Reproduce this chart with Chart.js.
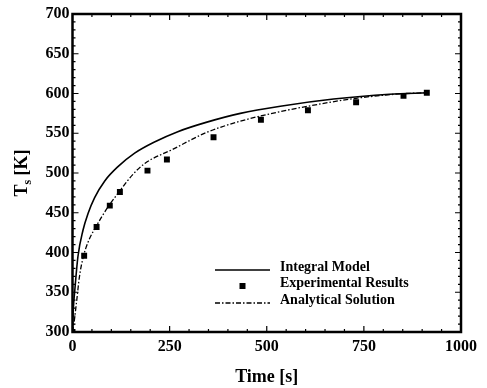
<!doctype html>
<html>

<head>
    <title>Ts vs time</title>
    <script src="https://cdn.jsdelivr.net/npm/chart.js"></script>
    <style>
        body { margin: 0; background: #fff; }
        .div-grafico { width: 487px; height: 388px; position: relative; }
    </style>
</head>

<body>
    <div class="div-grafico">
        <canvas id="grafico"></canvas>
    </div>

    <script>
        // values
        var tempoModelo = [0, 2, 6, 14, 27, 40, 57, 83, 117, 160, 211, 271, 346, 432, 535, 672, 816, 913]
        var tsModelo = [300, 328, 353, 395, 428, 449, 469, 490, 508, 525, 539, 552, 564, 575, 584, 593, 599, 601]

        var tempoExp = [0, 30, 62, 96, 122, 193, 243, 363, 485, 606, 730, 852, 912]
        var tsExp = [300, 396, 432, 459, 476, 503, 517, 545, 567, 579, 589, 597, 601]

        var tempoAnalitico = [0, 4, 10, 18, 27, 40, 61, 91, 121, 155, 186, 259, 345, 431, 533, 640, 730, 842, 912]
        var tsAnalitico = [300, 312, 336, 370, 393, 413, 433, 457, 477, 498, 512, 530, 551, 565, 577, 587, 594, 599.5, 601]

        var xTicks = [0, 250, 500, 750, 1000]
        var yTicks = [300, 350, 400, 450, 500, 550, 600, 650, 700]

        function pares(xs, ys) {
            return xs.map((v, i) => ({ x: v, y: ys[i] }))
        }

        var fonte = 'Liberation Serif, Times New Roman, serif'

        // frame, inward ticks, axis titles and legend
        var moldura = {
            id: 'moldura',
            afterDraw(chart) {
                var ctx = chart.ctx
                var a = chart.chartArea
                var x = chart.scales.x
                var y = chart.scales.y
                ctx.save()
                ctx.strokeStyle = '#000'
                ctx.lineWidth = 1.2
                ctx.beginPath()
                for (var v = 0; v <= 1000; v += 50) {
                    var px = x.getPixelForValue(v)
                    var len = v % 250 == 0 ? 6 : 3
                    ctx.moveTo(px, a.bottom); ctx.lineTo(px, a.bottom - len)
                    ctx.moveTo(px, a.top); ctx.lineTo(px, a.top + len)
                }
                for (var w = 300; w <= 700; w += 10) {
                    var py = y.getPixelForValue(w)
                    var len2 = w % 50 == 0 ? 6 : 3
                    ctx.moveTo(a.left, py); ctx.lineTo(a.left + len2, py)
                    ctx.moveTo(a.right, py); ctx.lineTo(a.right - len2, py)
                }
                ctx.stroke()

                ctx.lineWidth = 2.5
                ctx.strokeRect(a.left, a.top, a.right - a.left, a.bottom - a.top)

                // axis titles
                ctx.fillStyle = '#000'
                ctx.font = 'bold 18px ' + fonte
                ctx.textAlign = 'center'
                ctx.textBaseline = 'middle'
                ctx.fillText('Time [s]', (a.left + a.right) / 2, 377)

                ctx.save()
                ctx.translate(21, (a.top + a.bottom) / 2)
                ctx.rotate(-Math.PI / 2)
                ctx.textAlign = 'left'
                ctx.textBaseline = 'alphabetic'
                var partes = [['T', 'bold 18px ', 0], ['s', 'bold 12px ', 4], [' [K]', 'bold 18px ', 0]]
                var total = 0
                partes.forEach(p => { ctx.font = p[1] + fonte; total += ctx.measureText(p[0]).width })
                var cx = -total / 2
                partes.forEach(p => {
                    ctx.font = p[1] + fonte
                    ctx.fillText(p[0], cx, 6 + p[2])
                    cx += ctx.measureText(p[0]).width
                })
                ctx.restore()

                // legend
                var ds = chart.data.datasets
                var lx1 = 215, lx2 = 270, tx = 280
                var linhas = [270, 286, 303]
                ctx.font = 'bold 14px ' + fonte
                ctx.textAlign = 'left'
                ctx.textBaseline = 'middle'
                ds.forEach((d, i) => {
                    var ly = linhas[i]
                    if (d.showLine === false) {
                        ctx.fillRect((lx1 + lx2) / 2 - 3, ly - 3, 6, 6)
                    } else {
                        ctx.lineWidth = d.borderWidth
                        ctx.setLineDash(d.borderDash || [])
                        ctx.beginPath()
                        ctx.moveTo(lx1, ly); ctx.lineTo(lx2, ly)
                        ctx.stroke()
                        ctx.setLineDash([])
                    }
                    ctx.fillText(d.label, tx, ly - 3)
                })
                ctx.restore()
            }
        }

        var grafico = new Chart(document.getElementById('grafico').getContext('2d'), {
            type: 'scatter',
            data: {
                datasets: [{
                    label: 'Integral Model',
                    data: pares(tempoModelo, tsModelo),
                    showLine: true,
                    borderColor: '#000',
                    borderWidth: 1.6,
                    pointRadius: 0,
                    cubicInterpolationMode: 'monotone'
                }, {
                    label: 'Experimental Results',
                    data: pares(tempoExp, tsExp),
                    showLine: false,
                    pointStyle: 'rect',
                    pointRadius: 4.2,
                    backgroundColor: '#000',
                    borderColor: '#000',
                    borderWidth: 0
                }, {
                    label: 'Analytical Solution',
                    data: pares(tempoAnalitico, tsAnalitico),
                    showLine: true,
                    borderColor: '#000',
                    borderWidth: 1.3,
                    borderDash: [5, 2, 1.5, 2],
                    pointRadius: 0,
                    cubicInterpolationMode: 'monotone'
                }]
            },
            options: {
                responsive: true,
                maintainAspectRatio: false,
                animation: false,
                devicePixelRatio: 1,
                layout: {
                    padding: { top: 14, right: 26, left: 0, bottom: 0 }
                },
                plugins: {
                    legend: { display: false },
                    tooltip: { enabled: false }
                },
                scales: {
                    x: {
                        type: 'linear',
                        min: 0,
                        max: 1000,
                        afterFit: s => { s.height = 56 },
                        afterBuildTicks: s => { s.ticks = xTicks.map(v => ({ value: v })) },
                        grid: { display: false, drawTicks: false },
                        border: { display: false },
                        ticks: {
                            color: '#000',
                            padding: 5,
                            maxRotation: 0,
                            callback: v => String(v),
                            font: { family: fonte, size: 16, weight: 'bold' }
                        }
                    },
                    y: {
                        min: 300,
                        max: 700,
                        afterFit: s => { s.width = 72.5 },
                        afterBuildTicks: s => { s.ticks = yTicks.map(v => ({ value: v })) },
                        grid: { display: false, drawTicks: false },
                        border: { display: false },
                        ticks: {
                            color: '#000',
                            padding: 3,
                            callback: v => String(v),
                            font: { family: fonte, size: 16, weight: 'bold' }
                        }
                    }
                }
            },
            plugins: [moldura]
        });
    </script>
</body>

</html>
